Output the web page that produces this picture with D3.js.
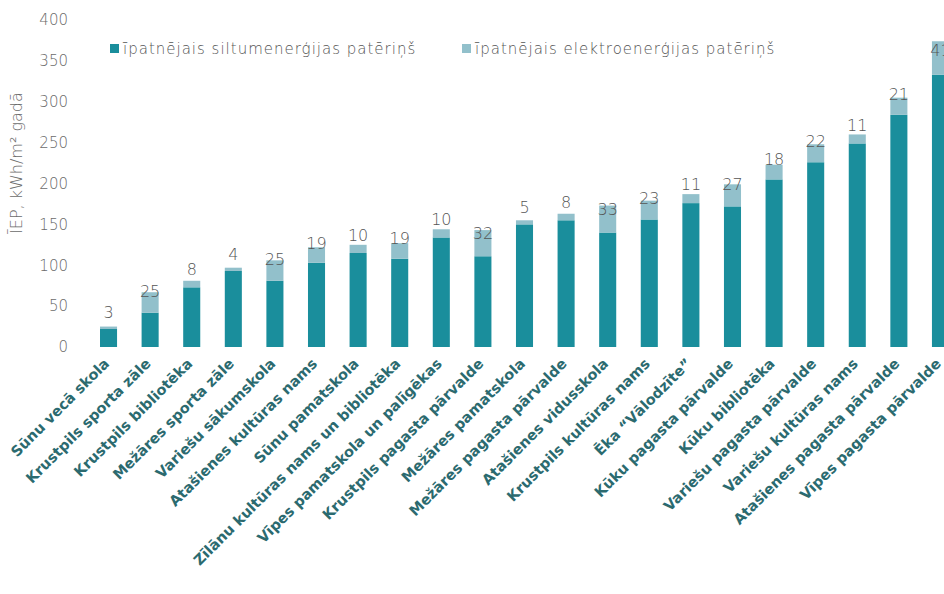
<!DOCTYPE html>
<html>
<head>
<meta charset="utf-8">
<script src="https://cdn.jsdelivr.net/npm/d3@7"></script>
<style>
  body { margin: 0; background: #fff; }
  text { font-family: "DejaVu Sans", sans-serif; }
</style>
</head>
<body>
<svg width="944" height="594"></svg>
<script>
// categories, left to right
var categories = ["Sūnu vecā skola", "Krustpils sporta zāle", "Krustpils bibliotēka", "Mežāres sporta zāle",
  "Variešu sākumskola", "Atašienes kultūras nams", "Sūnu pamatskola", "Zīlānu kultūras nams un bibliotēka",
  "Vīpes pamatskola un palīgēkas", "Krustpils pagasta pārvalde", "Mežāres pamatskola", "Mežāres pagasta pārvalde",
  "Atašienes vidusskola", "Krustpils kultūras nams", "Ēka “Vālodzīte”", "Kūku pagasta pārvalde",
  "Kūku bibliotēka", "Variešu pagasta pārvalde", "Variešu kultūras nams", "Atašienes pagasta pārvalde",
  "Vīpes pagasta pārvalde"];
var heat = [22, 42, 73, 93, 81, 103, 115, 108, 134, 111, 150, 155, 140, 156, 176, 172, 205, 226, 249, 284, 333];
var elec = [3, 25, 8, 4, 25, 19, 10, 19, 10, 32, 5, 8, 33, 23, 11, 27, 18, 22, 11, 21, 41];
var seriesNames = ["īpatnējais siltumenerģijas patēriņš", "īpatnējais elektroenerģijas patēriņš"];
var yTicks = [0, 50, 100, 150, 200, 250, 300, 350, 400];

var colHeat = "#1a8e9c", colElec = "#92c0cb";

var svg = d3.select("svg");

var x = d3.scaleBand().domain(categories).range([100, 949]).paddingInner(0.59).paddingOuter(0);
var y = d3.scaleLinear().domain([0, 400]).range([347, 20]);

// y axis labels
svg.append("g").selectAll("text").data(yTicks).enter().append("text")
  .attr("x", 68).attr("y", function(d) { return y(d); }).attr("dy", "0.35em")
  .attr("text-anchor", "end").attr("fill", "#6b6b6b").attr("font-size", 15).attr("font-weight", 200)
  .text(function(d) { return d; });

svg.append("text")
  .attr("transform", "translate(22," + y(225) + ") rotate(-90)")
  .attr("text-anchor", "middle").attr("fill", "#6b6b6b").attr("font-size", 16).attr("font-weight", 200)
  .text("ĪEP, kWh/m² gadā");

// bars
var g = svg.append("g");
g.selectAll("rect.heat").data(categories).enter().append("rect").attr("class", "heat")
  .attr("x", function(d) { return x(d); }).attr("width", x.bandwidth())
  .attr("y", function(d, i) { return y(heat[i]); })
  .attr("height", function(d, i) { return y(0) - y(heat[i]); })
  .attr("fill", colHeat);
g.selectAll("rect.elec").data(categories).enter().append("rect").attr("class", "elec")
  .attr("x", function(d) { return x(d); }).attr("width", x.bandwidth())
  .attr("y", function(d, i) { return y(heat[i] + elec[i]); })
  .attr("height", function(d, i) { return y(heat[i]) - y(heat[i] + elec[i]); })
  .attr("fill", colElec);

// value labels for the electricity part
g.selectAll("text.val").data(categories).enter().append("text").attr("class", "val")
  .attr("x", function(d) { return x(d) + x.bandwidth() / 2; })
  .attr("y", function(d, i) { return y(heat[i] + elec[i] * 0.25) - 16; })
  .attr("dy", "0.35em").attr("text-anchor", "middle")
  .attr("fill", "#555").attr("font-size", 16).attr("font-weight", 200)
  .text(function(d, i) { return elec[i]; });

// category labels
svg.append("g").selectAll("text").data(categories).enter().append("text")
  .attr("transform", function(d) { return "translate(" + (x(d) + x.bandwidth() / 2 - 2) + ",361) rotate(-45)"; })
  .attr("text-anchor", "end").attr("dy", "0.35em")
  .attr("fill", "#2b6a6f").attr("font-size", 14.5).attr("font-weight", "bold")
  .text(function(d) { return d; });

// legend
var legX = [110, 462];
var leg = svg.append("g").selectAll("g").data(seriesNames).enter().append("g")
  .attr("transform", function(d, i) { return "translate(" + legX[i] + ",48)"; });
leg.append("rect").attr("x", 0).attr("y", -4).attr("width", 9).attr("height", 9)
  .attr("fill", function(d, i) { return i === 0 ? colHeat : colElec; });
leg.append("text").attr("x", 13).attr("y", 1).attr("dy", "0.35em")
  .attr("fill", "#555").attr("font-size", 15).attr("font-weight", 200).attr("letter-spacing", 1)
  .text(function(d) { return d; });
</script>
</body>
</html>
